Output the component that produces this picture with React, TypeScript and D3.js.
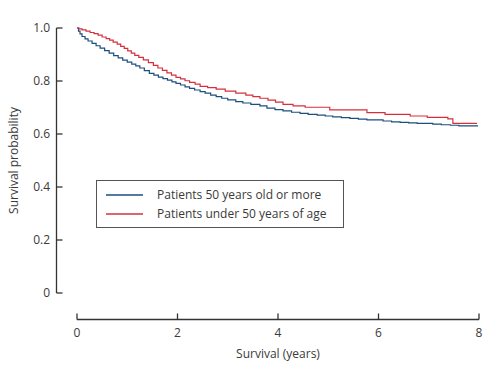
import React from "react";
import * as d3 from "d3";

const olderTimes = [0, 0.03, 0.06, 0.1, 0.16, 0.22, 0.3, 0.38, 0.46, 0.55, 0.64, 0.73, 0.82, 0.91, 1.0, 1.09, 1.17, 1.25, 1.34, 1.44, 1.53, 1.62, 1.71, 1.8, 1.89, 1.97, 2.06, 2.15, 2.24, 2.34, 2.45, 2.55, 2.66, 2.77, 2.88, 3.0, 3.16, 3.3, 3.46, 3.64, 3.78, 3.94, 4.1, 4.27, 4.44, 4.6, 4.78, 4.94, 5.09, 5.26, 5.43, 5.6, 5.77, 6.09, 6.26, 6.43, 6.6, 6.77, 7.08, 7.25, 7.43, 7.6, 7.98];
const olderSurv = [1.0, 0.988, 0.978, 0.968, 0.959, 0.951, 0.942, 0.933, 0.924, 0.915, 0.905, 0.896, 0.887, 0.879, 0.871, 0.864, 0.857, 0.849, 0.839, 0.829, 0.822, 0.815, 0.809, 0.803, 0.797, 0.791, 0.785, 0.778, 0.772, 0.766, 0.76, 0.754, 0.747, 0.741, 0.735, 0.729, 0.722, 0.717, 0.712, 0.706, 0.698, 0.692, 0.687, 0.682, 0.678, 0.674, 0.671, 0.668, 0.665, 0.662, 0.659, 0.656, 0.653, 0.649, 0.646, 0.644, 0.642, 0.64, 0.637, 0.635, 0.633, 0.631, 0.631];

const youngerTimes = [0, 0.04, 0.1, 0.18, 0.26, 0.34, 0.42, 0.5, 0.58, 0.65, 0.72, 0.8, 0.87, 0.94, 1.01, 1.08, 1.15, 1.23, 1.32, 1.42, 1.52, 1.61, 1.7, 1.79, 1.88, 1.97, 2.06, 2.15, 2.24, 2.35, 2.45, 2.6, 2.77, 2.95, 3.16, 3.36, 3.5, 3.64, 3.8, 3.95, 4.1, 4.3, 4.54, 5.03, 5.77, 6.13, 6.63, 6.97, 7.38, 7.48, 7.96];
const youngerSurv = [1.0, 0.997, 0.993, 0.988, 0.983, 0.979, 0.973, 0.966, 0.96, 0.954, 0.947, 0.939, 0.931, 0.923, 0.914, 0.905, 0.897, 0.889, 0.88, 0.869, 0.859, 0.849, 0.84, 0.831, 0.822, 0.814, 0.808, 0.801, 0.795, 0.788, 0.78, 0.775, 0.769, 0.762, 0.754, 0.747, 0.741, 0.735, 0.728, 0.72, 0.712, 0.706, 0.701, 0.691, 0.681, 0.674, 0.668, 0.663, 0.657, 0.64, 0.64];

const seriesNames = ["Patients 50 years old or more", "Patients under 50 years of age"];
const seriesColors = ["#1b4f7e", "#d4303c"];
const xTicks = [0, 2, 4, 6, 8];
const yTicks = [0, 0.2, 0.4, 0.6, 0.8, 1.0];

const FONT = "'Open Sans', sans-serif";
const TEXT = "#3a3a3a";
const FS = 12;

export default function App() {
  const W = 502, H = 375;
  const x = d3.scaleLinear().domain([0, 8]).range([77, 479]);
  const y = d3.scaleLinear().domain([0, 1]).range([293, 28]);
  const yAxisX = 56.5;
  const xAxisY = 319.5;
  const line = d3
    .line<[number, number]>()
    .x((d) => x(d[0]))
    .y((d) => y(d[1]))
    .curve(d3.curveStepAfter);
  const series = [
    olderTimes.map((t, i) => [t, olderSurv[i]] as [number, number]),
    youngerTimes.map((t, i) => [t, youngerSurv[i]] as [number, number]),
  ];
  const yFmt = (v: number) => (v === 0 ? "0" : d3.format(".1f")(v));

  return (
    <svg width={W} height={H} style={{ position: "absolute", left: 0, top: 0 }} fontFamily={FONT}>
      <rect width={W} height={H} fill="#fff" />
      {/* y axis */}
      <line x1={yAxisX} x2={yAxisX} y1={y(1)} y2={y(0)} stroke="#333" strokeWidth={1.3} />
      {yTicks.map((v) => (
        <g key={v}>
          <line x1={yAxisX} x2={yAxisX + 6} y1={y(v)} y2={y(v)} stroke="#333" strokeWidth={1.3} />
          <text x={50} y={y(v)} dy="0.35em" textAnchor="end" fontSize={FS} fill={TEXT}>
            {yFmt(v)}
          </text>
        </g>
      ))}
      {/* x axis */}
      <line x1={x(0)} x2={x(8)} y1={xAxisY} y2={xAxisY} stroke="#333" strokeWidth={1.3} />
      {xTicks.map((v) => (
        <g key={v}>
          <line x1={x(v)} x2={x(v)} y1={xAxisY} y2={xAxisY - 6} stroke="#333" strokeWidth={1.3} />
          <text x={x(v)} y={337} textAnchor="middle" fontSize={FS} fill={TEXT}>
            {v}
          </text>
        </g>
      ))}
      <text x={(x(0) + x(8)) / 2} y={358} textAnchor="middle" fontSize={FS} fill={TEXT}>
        Survival (years)
      </text>
      <text
        transform={`translate(18, ${(y(0) + y(1)) / 2}) rotate(-90)`}
        textAnchor="middle"
        fontSize={FS}
        fill={TEXT}
      >
        Survival probability
      </text>
      {/* curves */}
      {series.map((s, i) => (
        <path key={i} d={line(s) || ""} fill="none" stroke={seriesColors[i]} strokeWidth={1.2} />
      ))}
      {/* legend */}
      <rect x={96.5} y={180.5} width={247} height={47} fill="#fff" stroke="#555" strokeWidth={1} />
      {seriesNames.map((n, i) => (
        <g key={n}>
          <line x1={106} x2={143} y1={195 + i * 19} y2={195 + i * 19} stroke={seriesColors[i]} strokeWidth={1.5} />
          <text x={157} y={195 + i * 19} dy="0.35em" fontSize={FS} fill={TEXT}>
            {n}
          </text>
        </g>
      ))}
    </svg>
  );
}
